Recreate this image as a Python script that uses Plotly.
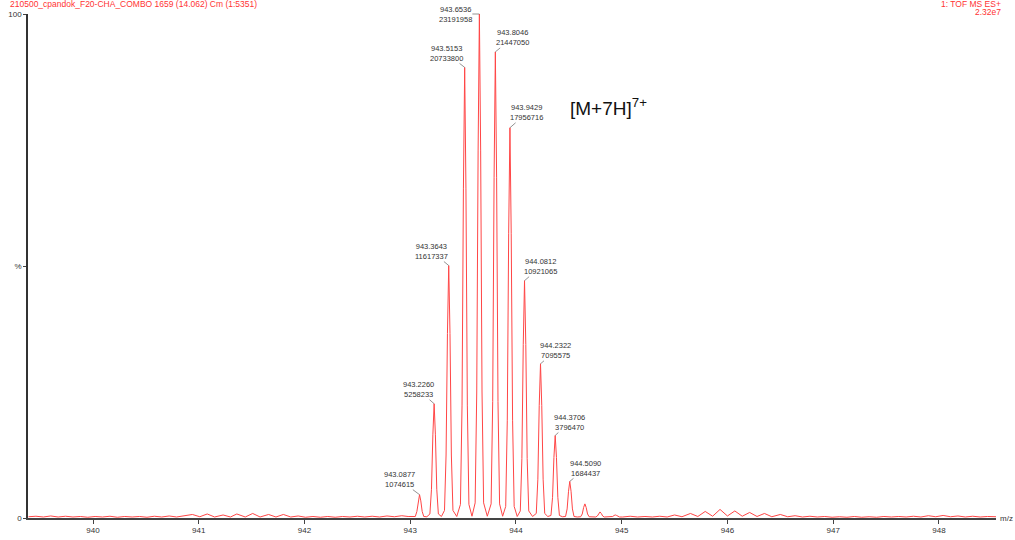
import plotly.graph_objects as go

# ---- centroid labels (m/z, raw intensity) ----
label_mz = [943.0877, 943.2260, 943.3643, 943.5153, 943.6536, 943.8046,
            943.9429, 944.0812, 944.2322, 944.3706, 944.5090]
label_counts = [1074615, 5258233, 11617337, 20733800, 23191958, 21447050,
                17956716, 10921065, 7095575, 3796470, 1684437]
base_peak_counts = 23191958

# ---- profile spectrum (m/z, % of base peak) ----
profile_mz = [
    939.39, 939.46, 939.53, 939.60, 939.67, 939.74, 939.81, 939.88, 939.95, 940.02, 940.09,
    940.16, 940.23, 940.30, 940.37, 940.44, 940.51, 940.58, 940.65, 940.72, 940.79, 940.87,
    940.94, 941.01, 941.08, 941.15, 941.23, 941.30, 941.36, 941.44, 941.51, 941.58,
    941.66, 941.73, 941.80, 941.87, 941.94, 942.01, 942.08, 942.15, 942.22, 942.29,
    942.36, 942.43, 942.50, 942.57, 942.64, 942.71, 942.78, 942.85, 942.92, 942.98,
    943.019,
    943.048, 943.063, 943.076, 943.088, 943.100, 943.113, 943.128, 943.157,
    943.186, 943.201, 943.214, 943.226, 943.238, 943.251, 943.266, 943.295,
    943.324, 943.339, 943.352, 943.364, 943.376, 943.389, 943.404, 943.440,
    943.475, 943.490, 943.503, 943.515, 943.527, 943.540, 943.555, 943.584,
    943.614, 943.629, 943.642, 943.654, 943.666, 943.679, 943.694, 943.729,
    943.765, 943.780, 943.793, 943.805, 943.817, 943.830, 943.845, 943.874,
    943.903, 943.918, 943.931, 943.943, 943.955, 943.968, 943.983, 944.012,
    944.041, 944.056, 944.069, 944.081, 944.093, 944.106, 944.121, 944.157,
    944.192, 944.207, 944.220, 944.232, 944.244, 944.257, 944.272, 944.301,
    944.331, 944.346, 944.359, 944.371, 944.383, 944.396, 944.411, 944.440,
    944.469, 944.484, 944.497, 944.509, 944.521, 944.534, 944.549, 944.580,
    944.612, 944.627, 944.640, 944.652, 944.664, 944.677, 944.692, 944.724,
    944.755, 944.770, 944.783, 944.795, 944.807, 944.820, 944.835, 944.867,
    944.900, 944.915, 944.928, 944.940, 944.952, 944.965, 944.980, 945.010,
    945.08, 945.15, 945.22, 945.29, 945.36, 945.43,
    945.50, 945.57, 945.65, 945.72, 945.79, 945.86, 945.93, 946.00, 946.07, 946.14, 946.21,
    946.28, 946.35, 946.42, 946.50, 946.57, 946.64, 946.71, 946.78, 946.85, 946.92, 946.99,
    947.06, 947.13, 947.20, 947.27, 947.34, 947.41, 947.48, 947.55, 947.62, 947.69, 947.76,
    947.83, 947.90, 947.97, 948.04, 948.11, 948.18, 948.25, 948.32, 948.39, 948.46, 948.54,
]
profile_pct = [
    0.25, 0.35, 0.2, 0.4, 0.2, 0.35, 0.2, 0.3, 0.15, 0.3, 0.2,
    0.35, 0.15, 0.3, 0.2, 0.3, 0.15, 0.35, 0.2, 0.4, 0.2, 0.45,
    0.7, 0.25, 0.8, 0.2, 0.6, 0.2, 0.8, 0.2, 0.9, 0.2,
    0.7, 0.2, 0.7, 0.2, 0.4, 0.15, 0.3, 0.15, 0.3, 0.15,
    0.3, 0.2, 0.35, 0.2, 0.35, 0.2, 0.4, 0.25, 0.45, 0.3,
    0.3,
    0.3, 1.3, 3.4, 4.63, 3.4, 1.3, 0.3, 0.25,
    0.8, 5.7, 16.5, 22.67, 16.5, 5.7, 0.8, 0.3,
    1.5, 12.5, 36.6, 50.09, 36.6, 12.5, 1.5, 0.3,
    2.7, 22.4, 65.3, 89.40, 65.3, 22.4, 2.7, 0.35,
    3.0, 25.0, 73.0, 100.0, 73.0, 25.0, 3.0, 0.35,
    2.8, 23.1, 67.5, 92.48, 67.5, 23.1, 2.8, 0.35,
    2.3, 19.4, 56.5, 77.43, 56.5, 19.4, 2.3, 0.3,
    1.4, 11.8, 34.4, 47.09, 34.4, 11.8, 1.4, 0.3,
    0.9, 7.7, 22.3, 30.60, 22.3, 7.7, 0.9, 0.3,
    0.5, 4.1, 12.0, 16.37, 12.0, 4.1, 0.5, 0.25,
    0.3, 1.8, 5.3, 7.26, 5.3, 1.8, 0.3, 0.2,
    0.25, 0.8, 2.1, 2.8, 2.1, 0.8, 0.25, 0.2,
    0.2, 0.4, 0.9, 1.2, 0.9, 0.4, 0.2, 0.2,
    0.2, 0.3, 0.5, 0.6, 0.5, 0.3, 0.2, 0.2,
    0.35, 0.2, 0.3, 0.2, 0.35, 0.2,
    0.6, 0.25, 0.9, 0.3, 1.3, 0.35, 1.7, 0.4, 1.4, 0.35, 1.1,
    0.3, 0.9, 0.25, 0.7, 0.25, 0.45, 0.2, 0.35, 0.2, 0.3, 0.15,
    0.25, 0.15, 0.3, 0.15, 0.25, 0.15, 0.3, 0.2, 0.3, 0.2, 0.35,
    0.2, 0.45, 0.25, 0.5, 0.25, 0.4, 0.2, 0.35, 0.2, 0.3, 0.25,
]

x_ticks = [940, 941, 942, 943, 944, 945, 946, 947, 948]
y_tickvals = [0, 50, 100]
y_ticktext = ["0", "%", "100"]

header_left = "210500_cpandok_F20-CHA_COMBO 1659 (14.062) Cm (1:5351)"
header_right = "1: TOF MS ES+"
header_scale = "2.32e7"
ion_label = "[M+7H]<sup>7+</sup>"

# label offsets (pixels) of each centroid label relative to its peak apex
label_ax = [-20, -16, -17, -18, -24, 17, 17, 16, 15, 14, 16]
label_ay = [-15, -14, -14, -14, 0, -14, -15, -14, -13, -13, -13]

FONT = "Liberation Sans, Arial, sans-serif"

fig = go.Figure()
fig.add_trace(go.Scatter(
    x=profile_mz, y=profile_pct, mode="lines",
    line=dict(color="rgb(255,70,70)", width=1),
    hoverinfo="skip", showlegend=False,
))

annotations = []
for mz, cnt, ax, ay in zip(label_mz, label_counts, label_ax, label_ay):
    annotations.append(dict(
        x=mz, y=cnt / base_peak_counts * 100, xref="x", yref="y",
        text=f"{mz:.4f}<br>{cnt}", showarrow=True, arrowhead=0,
        arrowwidth=0.8, arrowcolor="#777", ax=ax, ay=ay,
        font=dict(family=FONT, size=7.5, color="#333"),
        align="center", borderpad=0, standoff=0,
    ))

annotations += [
    dict(x=944.49, y=81.5, xref="x", yref="y", text=ion_label, showarrow=False,
         xanchor="left", yanchor="middle",
         font=dict(family=FONT, size=19, color="#111")),
    dict(x=-0.021, y=1.0205, xref="paper", yref="paper", text=header_left,
         showarrow=False, xanchor="left", yanchor="middle",
         font=dict(family=FONT, size=8.5, color="#ff3333")),
    dict(x=1.0075, y=1.0205, xref="paper", yref="paper", text=header_right,
         showarrow=False, xanchor="right", yanchor="middle",
         font=dict(family=FONT, size=8.5, color="#ff3333")),
    dict(x=1.0075, y=1.003, xref="paper", yref="paper", text=header_scale,
         showarrow=False, xanchor="right", yanchor="middle",
         font=dict(family=FONT, size=8.5, color="#ff3333")),
    dict(x=1.0105, y=0.0, xref="paper", yref="paper", text="m/z",
         showarrow=False, xanchor="center", yanchor="middle",
         font=dict(family=FONT, size=8, color="#333")),
]

fig.update_layout(
    width=1015, height=540,
    margin=dict(l=28, r=19, t=14, b=22, autoexpand=False),
    paper_bgcolor="white", plot_bgcolor="white",
    annotations=annotations,
    xaxis=dict(range=[939.385, 948.54], tickvals=x_ticks,
               ticktext=[str(t) for t in x_ticks], automargin=False,
               showline=True, linecolor="#444", linewidth=1.5,
               ticks="outside", ticklen=4, tickcolor="#444", tickwidth=1,
               showgrid=False, zeroline=False,
               tickfont=dict(family=FONT, size=8, color="#333")),
    yaxis=dict(range=[0, 100], tickvals=y_tickvals, ticktext=y_ticktext,
               automargin=False,
               showline=True, linecolor="#333", linewidth=1.5,
               ticks="outside", ticklen=3, tickcolor="#444", tickwidth=1,
               showgrid=False, zeroline=False,
               tickfont=dict(family=FONT, size=8, color="#333")),
)

fig.write_html("out.html", config={"displayModeBar": False},
               post_script="document.body.style.margin='0';document.body.style.overflow='hidden';")
